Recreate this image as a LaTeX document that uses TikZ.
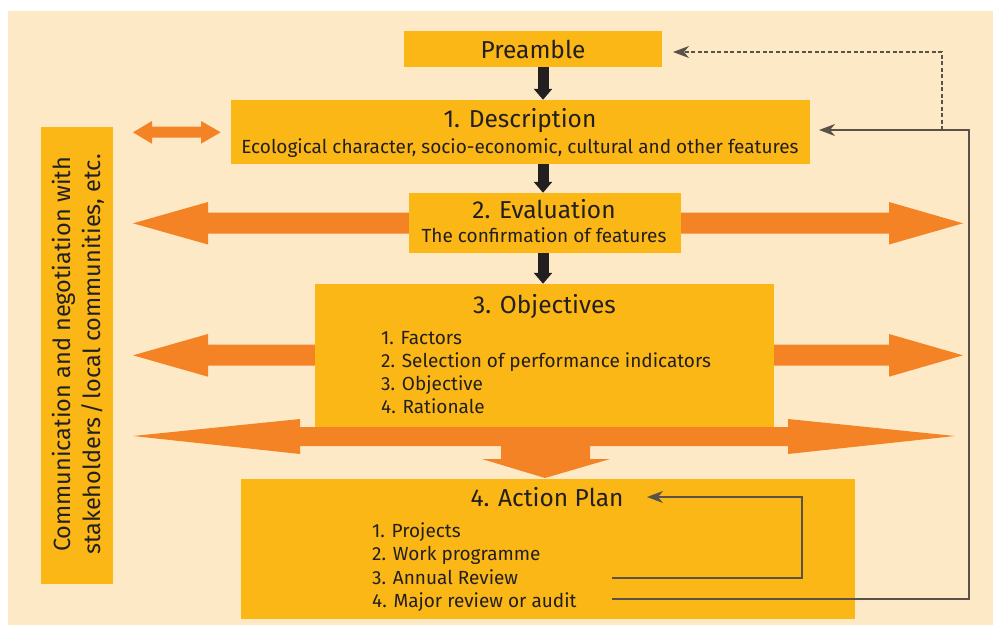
\documentclass[tikz,border=0pt]{standalone}
\usepackage{fontspec}
\setmainfont{Fira Sans}
\usetikzlibrary{arrows.meta,calc}
\definecolor{cream}{RGB}{254,233,199}
\definecolor{amber}{RGB}{251,183,22}
\definecolor{orng}{RGB}{243,131,37}
\definecolor{ink}{RGB}{35,31,32}
\definecolor{fbline}{RGB}{90,82,72}
\tikzset{
  box/.style={fill=amber, draw=none, inner sep=0pt, anchor=center},
  ttl/.style={text=ink, font=\fontsize{24.5}{28}\selectfont, inner sep=0pt, anchor=base},
  sub/.style={text=ink, font=\fontsize{19}{22}\selectfont, inner sep=0pt, anchor=base},
  item/.style={text=ink, font=\fontsize{19}{22}\selectfont, inner sep=0pt, anchor=base west},
  side/.style={text=ink, font=\fontsize{23.5}{28}\selectfont, inner sep=0pt, anchor=base, rotate=90},
  fat/.style={fill=orng},
  blk/.style={draw=ink, line width=11pt, -{Triangle[width=18pt,length=11pt]}},
  fb/.style={draw=fbline, line width=1.3pt, -{Stealth[length=16pt,width=12pt,inset=5pt]}},
}
\begin{document}
\begin{tikzpicture}[x=1pt,y=-1pt]
\useasboundingbox (0,0) rectangle (993,627);
\fill[white] (0,0) rectangle (993,627);
\fill[cream] (8,11) rectangle (993,625);

% orange arrows (drawn behind the boxes)
\fill[fat] (420,212.5) -- (208,212.5) -- (208,202) -- (133,223.3) -- (208,244.5) -- (208,233.5) -- (420,233.5) -- cycle;
\fill[fat] (670,212.5) -- (889,212.5) -- (889,202) -- (963,223.3) -- (889,244.5) -- (889,233.5) -- (670,233.5) -- cycle;
\fill[fat] (330,344.7) -- (208,344.7) -- (208,334) -- (133,355.3) -- (208,376.7) -- (208,365.7) -- (330,365.7) -- cycle;
\fill[fat] (760,344.7) -- (889,344.7) -- (889,334) -- (963,355.3) -- (889,376.7) -- (889,365.7) -- (760,365.7) -- cycle;
\fill[fat] (152,126.7) -- (152,121) -- (133,132.3) -- (152,143.7) -- (152,137.7) -- (201,137.7)
  -- (201,143.7) -- (220.7,132.3) -- (201,121) -- (201,126.7) -- cycle;

% boxes
\node[box, minimum width=258pt, minimum height=36pt] (pre) at (533,49) {};
\node[box, minimum width=579pt, minimum height=64pt] (desc) at (520.5,132) {};
\node[box, minimum width=272pt, minimum height=60pt] (ev) at (545,223) {};
\node[box, minimum width=459pt, minimum height=143pt] (obj) at (544.5,355.5) {};
\node[box, minimum width=614pt, minimum height=140pt] (act) at (548,549) {};
\node[box, minimum width=72pt, minimum height=457pt] (comm) at (77,355.5) {};

% big arrow with downward branch
\fill[fat] (133,436) -- (300,419) -- (300,427) -- (788,427) -- (788,419) -- (955,436)
  -- (788,454) -- (788,446) -- (590,446) -- (590,459) -- (610,459) -- (545,478)
  -- (482,459) -- (501,459) -- (501,446) -- (300,446) -- (300,454) -- cycle;

% black arrows
\draw[blk] ([xshift=-2pt]ev.north |- pre.south) -- ([xshift=-2pt]ev.north |- desc.north);
\draw[blk] ([xshift=-2pt]ev.north |- desc.south) -- ([xshift=-2pt]ev.north);
\draw[blk] ([xshift=-2pt]ev.south) -- ([xshift=-2pt]ev.south |- obj.north);

% texts
\node[ttl] (tpre) at (533,58) {Preamble};
\node[ttl] (tdesc) at (520,127) {1. Description};
\node[sub] (sdesc) at (520,153) {Ecological character, socio-economic, cultural and other features};
\node[ttl] (tev) at (544,218) {2. Evaluation};
\node[sub] (sev) at (544,242) {The confirmation of features};
\node[ttl] (tobj) at (544.5,313) {3. Objectives};
\node[item] (o1) at (381,344) {1. Factors};
\node[item] (o2) at (381,367) {2. Selection of performance indicators};
\node[item] (o3) at (381,390) {3. Objective};
\node[item] (o4) at (381,413) {4. Rationale};
\node[ttl] (tact) at (547,506) {4. Action Plan};
\node[item] (a1) at (372,537) {1. Projects};
\node[item] (a2) at (372,560) {2. Work programme};
\node[item] (a3) at (372,584) {3. Annual Review};
\node[item] (a4) at (372,607) {4. Major review or audit};
\node[side] (c1) at (70,354.5) {Communication and negotiation with};
\node[side] (c2) at (100,354.5) {stakeholders\kern3pt/\kern3pt local communities, etc.};

% feedback lines
\coordinate (ar) at (612,578);
\coordinate (mr) at (612,599);
\coordinate (jn) at (942,130);
\coordinate (atip) at (647,497);
\coordinate (dtip) at (819,130);
\coordinate (ptip) at (673,52);
\draw[fb] (ar) -| (802,497) -- (atip);
\draw[fb] (mr) -| (969,130) -- (dtip);
\draw[fb, dash pattern=on 4pt off 2.5pt] (jn) |- (ptip);
\end{tikzpicture}
\end{document}
